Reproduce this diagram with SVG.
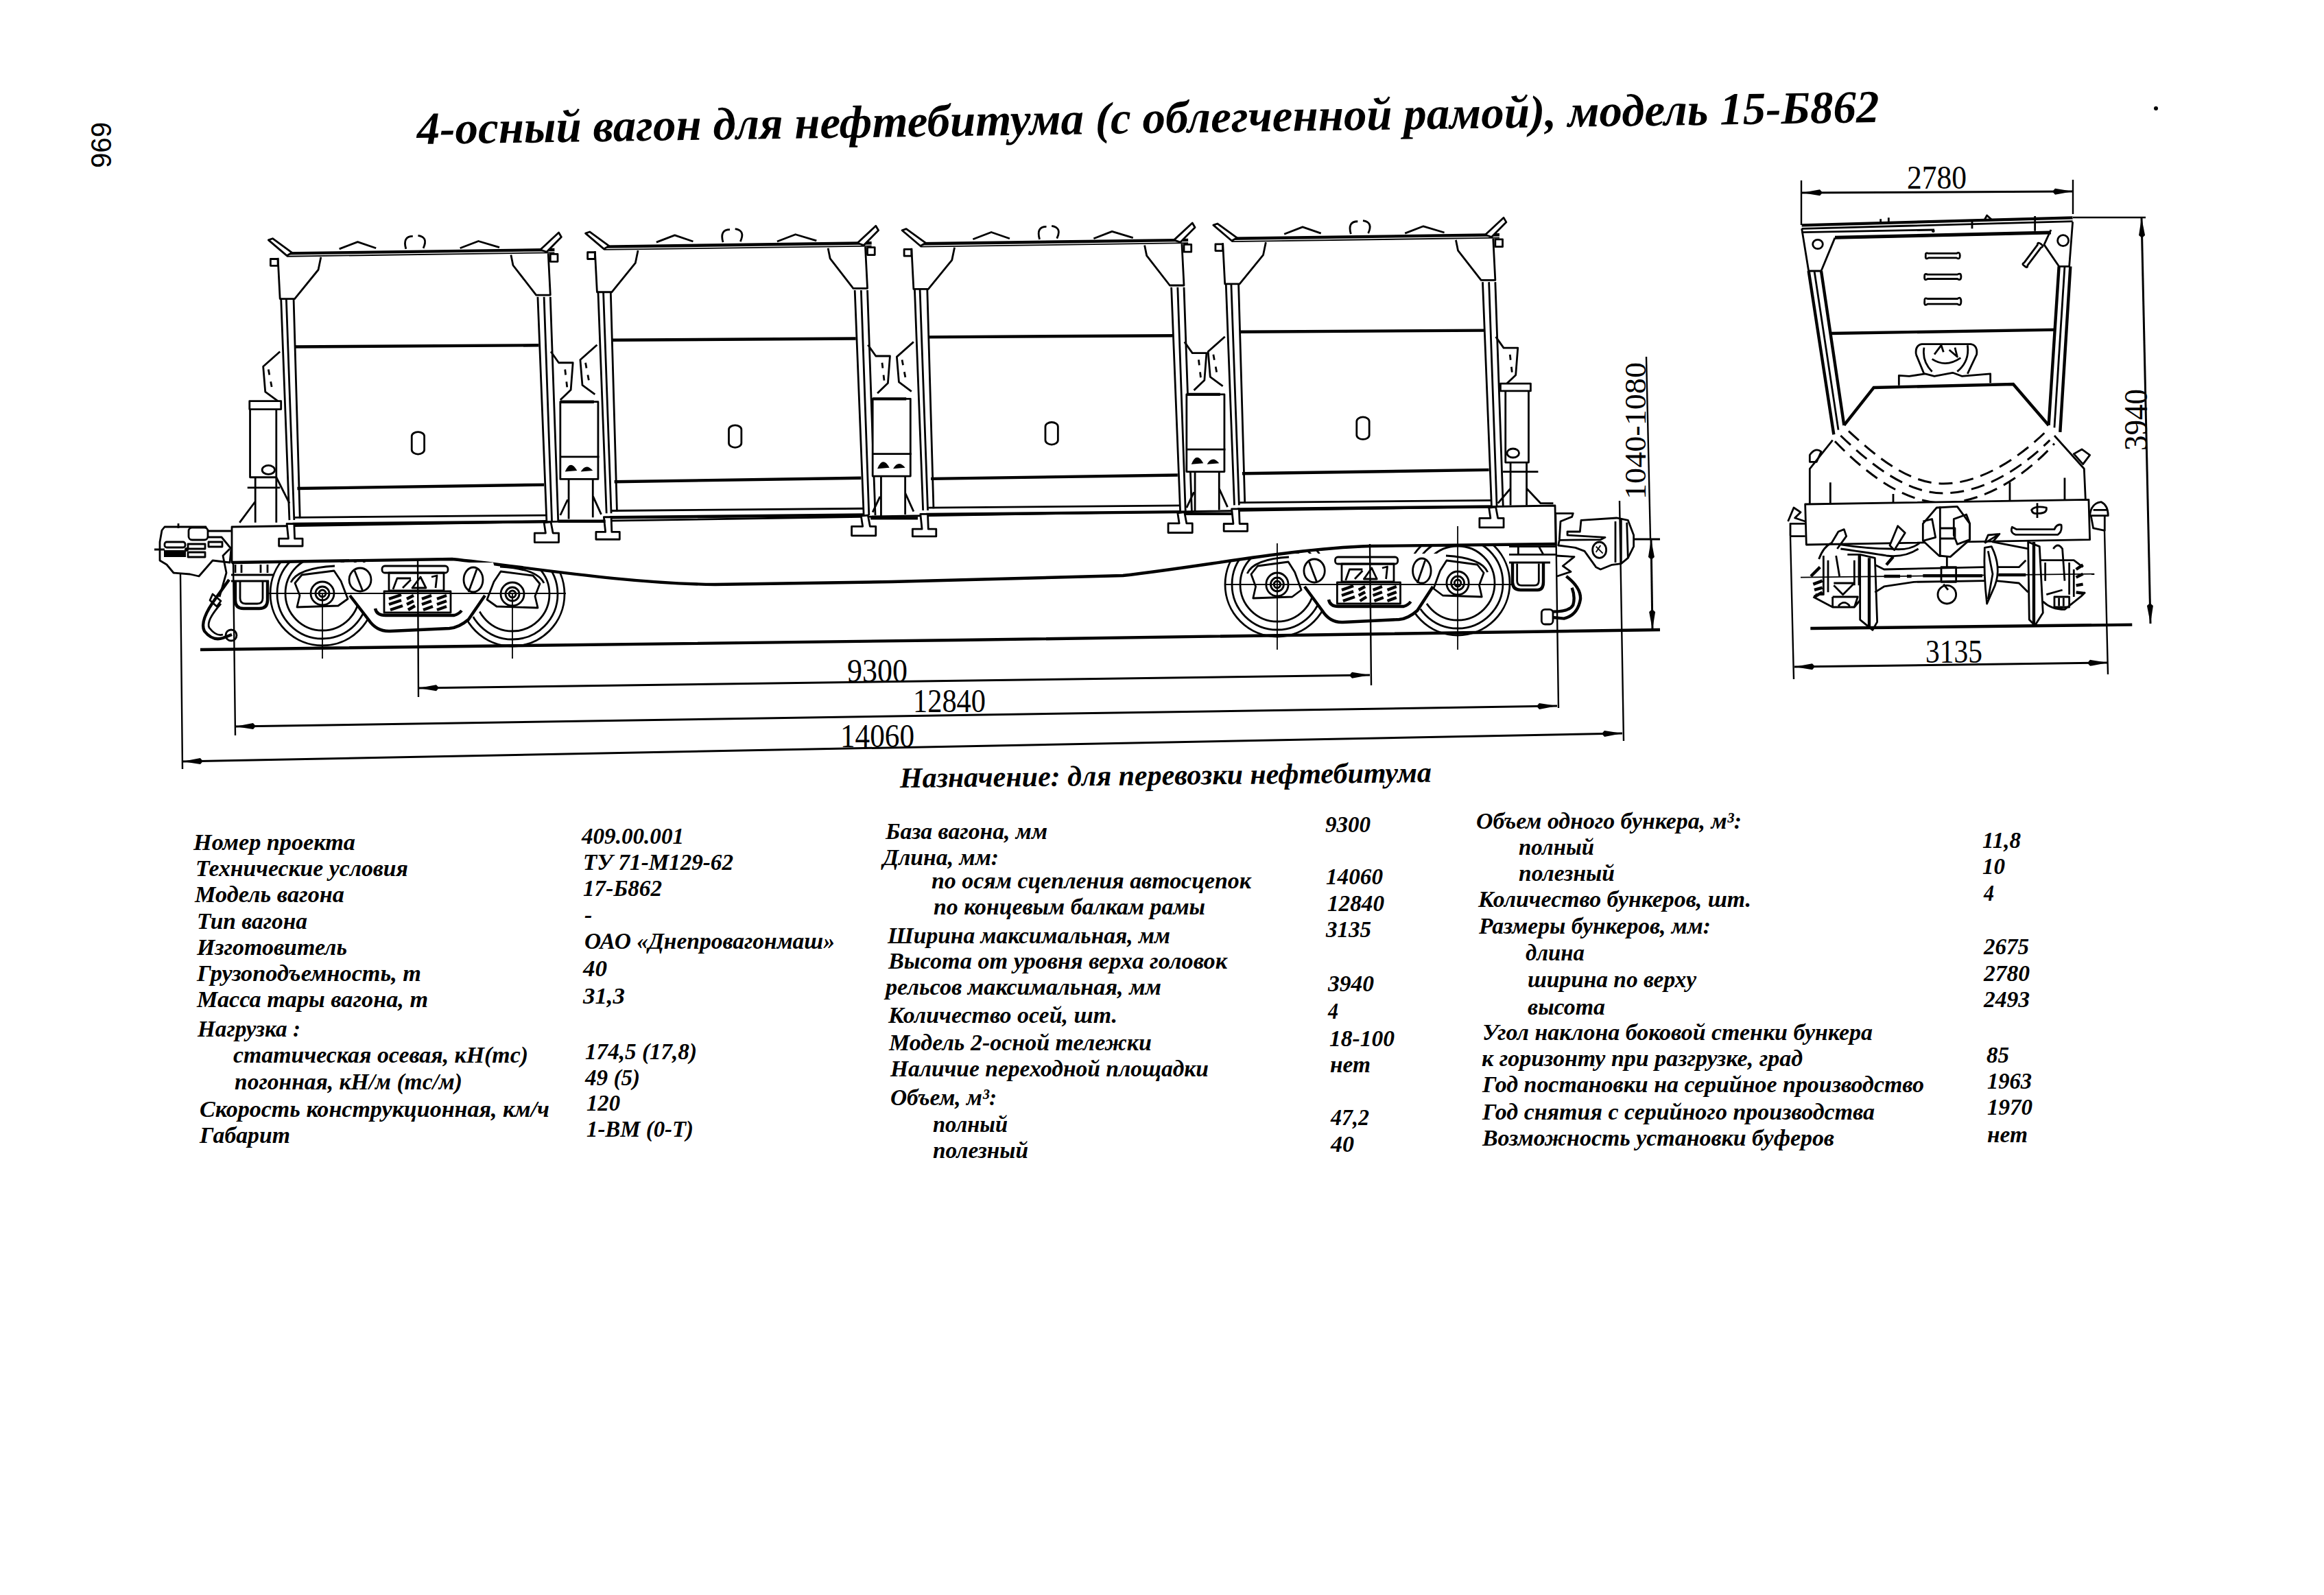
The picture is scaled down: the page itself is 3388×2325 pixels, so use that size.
<svg xmlns="http://www.w3.org/2000/svg" width="3388" height="2325" viewBox="0 0 3388 2325">
<style>
.l{fill:none;stroke:#000;stroke-width:2.8;vector-effect:non-scaling-stroke;stroke-linejoin:round}
.n{fill:none;stroke:#000;stroke-width:1.8;vector-effect:non-scaling-stroke}
.t{fill:none;stroke:#000;stroke-width:4.4;vector-effect:non-scaling-stroke}
.w{fill:#fff;stroke:#000;stroke-width:2.8;vector-effect:non-scaling-stroke;stroke-linejoin:round}
.h{fill:#fff;stroke:none}
.f{fill:#000;stroke:none}
.d{fill:none;stroke:#000;stroke-width:3;stroke-dasharray:20 11;vector-effect:non-scaling-stroke}
.dim{fill:none;stroke:#000;stroke-width:3;marker-start:url(#arr);marker-end:url(#arr)}
.ext{fill:none;stroke:#000;stroke-width:2.4}
.v{font-family:"Liberation Serif",serif;font-size:49px;fill:#000}
.s{font-family:"Liberation Serif",serif;font-size:34px;font-style:italic;font-weight:bold;fill:#000}
</style>
<defs>
<marker id="arr" markerUnits="userSpaceOnUse" markerWidth="36" markerHeight="12" refX="32" refY="6" orient="auto-start-reverse">
<path d="M32 6L6 1.5L2 6L6 10.5Z" fill="#000"/>
</marker>
<g id="hopper">
<path class="t" d="M285 128L795 118"/><path class="n" d="M285 136L795 126"/>
<path class="w" d="M250 92L258 88L295 126L285 134Z"/><path class="w" d="M803 72L808 84L780 124L768 118Z"/>
<rect class="l" x="254" y="143" width="14" height="18"/><rect class="l" x="787" y="130" width="14" height="20"/>
<path class="l" d="M385 116L420 97L455 114M615 114L650 95L690 112"/>
<path class="l" d="M512 116Q505 82 525 82M545 114Q555 84 535 80"/>
<path class="l" d="M268 140L272 250H300L345 172L350 138"/>
<path class="l" d="M712 132L716 160L760 240H787L783 128"/>
<path class="l" d="M274 250L290 845M284 250L299 845M298 250L310 840"/>
<path class="l" d="M763 245L780 850M775 245L790 850M787 245L802 850"/>
<path class="t" d="M300 379L765 375"/><path class="t" d="M305 760L775 750"/>
<path class="l" d="M300 838L780 832"/><path class="t" d="M296 856L780 849"/>
<rect class="l" x="523" y="608" width="24" height="60" rx="12"/>
<path class="l" d="M272 392L240 432L244 500L268 525"/>
<path class="l" d="M250 440L258 500" stroke-dasharray="8 10"/>
<path class="l" d="M788 392L803 422L830 422L826 495L806 522"/>
<path class="l" d="M815 440L820 500" stroke-dasharray="8 10"/>
<path class="w" d="M285 855L288 895H270V915H315V895H300L299 855Z"/>
<path class="w" d="M775 852L778 880H757V905H803V880H792L788 850Z"/>
</g>
<g id="box">
<rect class="w" x="806" y="527" width="72" height="208"/>
<path class="l" d="M806 675H880"/><path class="t" d="M806 527H870"/>
<path class="f" d="M815 715Q825 680 838 712ZM845 715Q855 690 868 712Z"/>
<path class="l" d="M822 735V842M868 735V838M806 832L820 790M868 780L884 830"/>
<path class="t" d="M802 848H892"/>
</g>
<g id="axlebox">
<path class="w" d="M-40-15L-30-27L17-33L27-18L37 8L23 18L-37 20L-33 3Z"/>
<path class="l" d="M-46-16Q-36-37 18-40"/>
<circle class="l" r="17"/><circle class="l" r="10"/><circle class="l" r="5"/>
</g>
<g id="wheel">
<circle class="l" r="76"/><circle class="l" r="66"/><circle class="l" r="54"/>
</g>
<g id="bogieframe">
<path class="h" d="M-112-45H112L125 0L78 38L60 53L-54 57L-70 38L-97 3L-115-15Z"/>
<path class="t" d="M-97 3L-70 38Q-58 56-38 55L48 51Q62 50 76 38L100 3"/>
<rect class="w" x="-50" y="-40" width="96" height="10" rx="4"/>
<rect class="l" x="-40" y="-30" width="80" height="26"/>
<path class="l" d="M-34-6L-28-22H-8M-20-8L-8-20M-6-8L6-24L14-8ZM22-24L30-26L28-8"/>
<rect class="w" x="-47" y="-3" width="97" height="31"/>
<path class="t" d="M-40 8L-22 2M-40 16L-22 10M-38 24L-20 18M-14 8L-4 3M-14 16L-4 11M-12 24L-2 18M8 8L22 3M8 16L22 11M10 24L24 19M30 8L44 3M30 16L44 11M30 24L44 19"/>
<path class="t" d="M-60 22Q-58 32-45 32H55Q62 30 66 25"/>
<ellipse class="w" cx="-82" cy="-20" rx="16" ry="17"/><path class="l" d="M-90-33L-78-3"/>
<ellipse class="w" cx="83" cy="-20" rx="14" ry="18"/><path class="l" d="M88-35L76-2"/>
</g>
<path id="pill" class="l" d="M-60 0Q-62-10-50-6H48Q60-12 60 0Q60 12 48 6H-50Q-62 12-60 0Z"/>
</defs>
<rect width="3388" height="2325" fill="#fff"/>

<g id="page-number"><text transform="translate(162 245) rotate(-90)" font-family="Liberation Sans,sans-serif" font-size="42" fill="#000" textLength="67" lengthAdjust="spacingAndGlyphs">969</text></g>
<g id="title"><text transform="translate(608 210) rotate(-.86)" font-family="Liberation Serif,serif" font-size="67" font-style="italic" font-weight="bold" fill="#000" textLength="2132" lengthAdjust="spacingAndGlyphs">4-осный вагон для нефтебитума (с облегченной рамой), модель 15-Б862</text></g>

<g id="wheels">
<use href="#wheel" x="470" y="865"/><use href="#wheel" x="747" y="866"/>
<use href="#wheel" x="1862" y="852"/><use href="#wheel" x="2125" y="850"/>
</g>
<g id="underframe">
<path class="w" d="M338 768L2267 737L2268 793L1997 796C1880 800 1760 825 1637 839L1300 848L1042 852C900 850 760 825 659 815L338 820Z"/>
<path class="t" d="M338 820L659 815C760 825 900 850 1042 852L1300 848L1637 839C1760 825 1880 800 1997 796L2268 793"/>
<path class="t" d="M292 947L1400 933L2420 918"/>
</g>
<g id="bogie-left" transform="translate(607 865)">
<use href="#bogieframe"/>
<use href="#axlebox" x="-137" y="0"/>
<g transform="translate(140 1) scale(-1 1)"><use href="#axlebox"/></g>
<path class="n" d="M-215 0H218M-137 0V95M140 0V95"/>
</g>
<g id="bogie-right" transform="translate(1994 852) scale(.95 1)">
<use href="#bogieframe"/>
<use href="#axlebox" x="-139" y="0"/>
<g transform="translate(138 -2) scale(-1 1)"><use href="#axlebox"/></g>
<path class="n" d="M-220 0H225M-139-60V95M138-85V95"/>
</g>
<g id="hoppers" transform="matrix(.7653 0 0 .5421 200 300)">
<g id="hopper-1"><use href="#hopper"/></g>
<g id="hopper-2"><use href="#hopper" x="604" y="-18"/></g>
<g id="hopper-3"><use href="#hopper" x="1207" y="-26"/></g>
<g id="hopper-4"><use href="#hopper" x="1800" y="-40"/></g>
<g id="riser-1"><use href="#box"/></g>
<g id="riser-2"><use href="#box" x="595" y="-8"/></g>
<g id="riser-3"><use href="#box" x="1193" y="-20"/></g>
<g id="end-left">
<rect class="w" x="215" y="545" width="50" height="185"/><rect class="w" x="214" y="525" width="60" height="22"/>
<circle class="l" cx="250" cy="710" r="12"/>
<path class="l" d="M225 730V852M265 730V852M210 758H272M195 852L225 795M265 730L290 800"/>
</g>
</g>
<g id="end-right" transform="matrix(.7334 0 0 .5421 1300 300)">
<rect class="w" x="1220" y="495" width="46" height="195"/><rect class="w" x="1210" y="478" width="60" height="20"/>
<circle class="l" cx="1235" cy="665" r="12"/>
<path class="l" d="M1230 690V805M1262 690V805M1215 715H1285M1262 760L1290 800H1315M1205 800L1230 760"/>
</g>
<g id="coupler-left">
<path class="w" d="M236 773L240 768H300L303 783H323L337 800L335 820L310 817L290 840L277 837L253 835L243 823L233 817L233 790Z"/>
<rect class="w" x="275" y="769" width="28" height="18" rx="5"/>
<rect class="l" x="240" y="790" width="30" height="8" rx="3"/><rect class="f" x="239" y="802" width="32" height="10"/>
<rect class="l" x="274" y="793" width="25" height="7"/><rect class="l" x="274" y="805" width="25" height="7"/><rect class="l" x="304" y="790" width="20" height="7"/>
<circle class="f" cx="272" cy="801" r="3"/>
<path class="l" d="M225 801H240M303 774H337M260 763V770"/>
<path class="t" d="M334 845L316 870Q290 905 298 920Q310 935 325 930L338 925"/>
<path class="l" d="M322 880Q300 905 305 915Q315 928 325 925"/>
<path class="l" d="M320 870L330 835L325 810L335 800M310 866L322 876L316 884L306 875Z"/>
<circle class="l" cx="337" cy="926" r="8"/>
<path class="t" d="M343 847V875Q343 887 355 887H378Q390 887 390 875V847"/>
<path class="l" d="M350 847V872Q350 880 358 880H375Q383 880 383 872V847"/>
<path class="l" d="M337 838H400M337 847H392M343 823V835M352 823V835M380 823V835M390 823V835"/>
</g>
<g id="coupler-right" transform="translate(2200 700) scale(.3333)">
<path class="l" d="M200 145H280L275 160L225 180L220 260"/>
<path class="w" d="M255 225H310L315 175L470 165L520 175L545 240V290L520 340L490 365L450 370L400 390L380 380L330 310L290 295L215 285L220 262L400 260L420 250L255 240Z"/>
<ellipse class="l" cx="395" cy="305" rx="30" ry="35"/><path class="n" d="M380 290L410 320M400 285L380 315"/>
<path class="l" d="M465 180V360M490 170V365M515 185L520 340M545 258H660"/>
<path class="l" d="M0 290H205M0 325H205M40 290V325M130 290L150 325M205 330L285 335L235 375L270 400L210 420"/>
<path class="t" d="M15 360V445Q15 480 50 480H125Q150 480 150 445V360"/>
<path class="l" d="M35 365V440Q35 460 55 460H110Q130 460 130 440V365M0 360H180"/>
<path class="t" d="M250 420Q315 470 312 520Q300 590 240 605L190 600M275 470Q290 510 280 545Q265 575 190 575"/>
<rect class="w" x="142" y="565" width="50" height="65" rx="15"/>
</g>

<g id="side-view">
<g id="side-upper" transform="translate(2620 240) scale(.3333)">
<path class="t" d="M20 265L1205 232"/><path class="l" d="M20 280L1205 248M20 296L600 285M165 322L1110 300"/><path class="t" d="M165 318L1105 296"/>
<path class="l" d="M365 250V238M400 250V232M820 240L830 222L850 240M1040 225V290M765 240V280"/>
<circle class="f" cx="595" cy="290" r="7"/>
<path class="l" d="M20 280L50 465H105L165 320"/><ellipse class="l" cx="90" cy="348" rx="22" ry="20"/>
<path class="l" d="M1205 250L1190 445H1145L1080 350L1110 285"/><ellipse class="l" cx="1163" cy="332" rx="24" ry="24"/>
<path class="t" d="M50 465L160 1180M105 465L205 1140"/><path class="l" d="M75 465L180 1160"/>
<path class="t" d="M1145 445L1100 1140M1195 445L1150 1170"/><path class="l" d="M1170 445L1125 1150"/>
<path class="t" d="M145 738L1130 722"/>
<use href="#pill" transform="translate(637 398) scale(1.25 1.6)"/><use href="#pill" transform="translate(637 490) scale(1.33 1.6)"/><use href="#pill" transform="translate(637 598) scale(1.33 1.9)"/>
<use href="#pill" transform="translate(1030 395) rotate(-53) scale(1 1.6)"/>
<path class="l" d="M520 830Q515 790 545 785H760Q790 790 785 830L745 915M520 830L555 915M555 800Q545 860 590 905M745 790Q755 860 700 905M590 850Q650 890 715 845M600 830L630 790L640 820M665 810L700 840L690 800"/>
<path class="l" d="M445 965V922L490 925L560 915L600 925L680 910L720 925L845 915V955"/>
<path class="t" d="M205 1140L335 975L945 960L1100 1140"/>
<path class="d" d="M225 1165C370 1300 500 1395 640 1395C790 1395 950 1300 1085 1170"/>
<path class="d" d="M190 1185C340 1330 490 1437 640 1437C800 1437 970 1340 1105 1205"/>
<path class="d" d="M165 1210C320 1370 480 1479 640 1479C810 1479 990 1370 1125 1220"/>
<path class="l" d="M155 1205L55 1330V1485M1125 1185L1255 1330L1262 1485M145 1390V1490M1170 1370V1480M930 1390V1490M420 1440V1490"/>
<path class="l" d="M55 1270Q80 1235 105 1255L85 1300L55 1300ZM1210 1265L1245 1245L1280 1270L1250 1310Z"/>
</g>
<g id="side-lower" transform="translate(2590 720) scale(.3333)">
<path class="w" d="M125 45L1365 25L1370 200L130 222Z"/>
<path class="l" d="M60 185V130H125M60 185H125M50 120L75 60L105 80L80 105L125 120"/>
<path class="l" d="M1370 95Q1375 40 1420 35Q1450 50 1450 95H1365M1375 95L1385 150L1435 160V95M1385 70H1445"/>
<path class="l" d="M1140 40V105M1115 70Q1130 50 1180 60Q1185 85 1145 85Q1120 90 1115 70Z"/>
<path class="l" d="M1030 145Q1020 170 1045 178H1230Q1250 165 1245 135Q1225 130 1215 155H1050Z"/>
<path class="n" d="M105 365L1390 350"/>
<path class="l" d="M430 310L470 330L910 320M960 320L1060 320L1090 290M430 430L470 405L600 385L910 380M960 380L1060 390L1100 430"/>
<path class="t" d="M470 360H540M570 360H590M640 358H900M970 354H1090"/>
<path class="w" d="M640 130L700 60L790 55L845 130V200L760 275L710 270L640 205Z"/>
<path class="l" d="M640 120L680 110L695 190L640 205M715 55V275M715 150H780V195H715M775 110L830 90L845 130V200L790 220L775 180Z"/>
<path class="l" d="M745 275V320M720 320H785V385H720Z"/>
<circle class="l" cx="745" cy="440" r="40"/><path class="l" d="M730 395L750 420"/>
<path class="l" d="M365 265V550L420 595L440 560L430 280Z"/><path class="t" d="M405 280V585"/>
<path class="l" d="M1100 210L1105 550L1130 575L1165 520L1150 230Z"/><path class="t" d="M1125 210V570"/>
<path class="w" d="M940 230Q985 320 955 400L920 480Q905 350 910 235Z"/><path class="l" d="M925 250L945 350L925 460"/>
<path class="l" d="M910 215L975 175L945 210L1100 240M910 215L925 180L975 175"/>
<path class="l" d="M270 220Q400 240 500 240Q580 250 625 215M280 240Q420 260 480 270Q560 280 620 240"/>
<path class="t" d="M480 310L510 275"/>
<path class="w" d="M495 225L530 140L562 170L515 245Z"/>
<path class="l" d="M185 285Q205 230 240 215L270 165L295 155L305 185L265 240"/>
<path class="l" d="M160 450L245 495H340L365 465M205 270V440H170M225 290V430M260 270L275 360M310 265H360V400M340 290V400M245 450V495M245 450H355L340 495M270 490Q295 460 320 490M250 400L290 440L340 390M250 390H340"/>
<path class="t" d="M150 360L190 320M160 395L200 380M165 420L200 410M165 450L200 430"/>
<path class="l" d="M1165 470Q1200 505 1260 505L1335 445L1350 430M1150 290H1300L1340 320M1175 300V380M1210 240Q1230 210 1250 240L1260 380M1280 300V440M1300 330V450M1215 450H1280V495H1215ZM1235 490V455M1255 490V455M1180 440L1250 420"/>
<path class="t" d="M1310 330L1340 310M1310 365L1340 350M1310 400L1340 395M1310 430L1345 435"/>
<path class="t" d="M148 588L1555 572"/>
</g>
</g>

<g id="connectors">
<path class="ext" d="M263 837L266 1121M340 820L343 1072M609 815L610 1016M1997 793L1999 999M2268 750L2272 1032M2361 730L2367 1080"/>
<path class="dim" d="M266 1110L2365 1069"/>
<path class="dim" d="M343 1059L2270 1029"/>
<path class="dim" d="M610 1003L1997 984"/>
<path class="ext" d="M2400 520L2406 786"/>
<path class="dim" d="M2407 786L2409 918"/>
<path class="ext" d="M2626 263V328M3022 262V312M3022 317H3128"/>
<path class="dim" d="M2627 281L3022 279"/>
<path class="dim" d="M3122 317L3135 909"/>
<path class="ext" d="M2610 782L2615 990M3068 773L3073 983"/>
<path class="dim" d="M2616 972L3073 966"/>
</g>

<g id="dimension-labels">
<text class="v" x="1235" y="994" textLength="88" lengthAdjust="spacingAndGlyphs">9300</text>
<text class="v" x="1331" y="1038" textLength="106" lengthAdjust="spacingAndGlyphs">12840</text>
<text class="v" x="1225" y="1089" textLength="108" lengthAdjust="spacingAndGlyphs">14060</text>
<text class="v" transform="translate(2399 728) rotate(-90)" textLength="200" lengthAdjust="spacingAndGlyphs" style="font-size:44px">1040-1080</text>
<text class="v" x="2780" y="275" textLength="87" lengthAdjust="spacingAndGlyphs">2780</text>
<text class="v" transform="translate(3130 657) rotate(-90)" textLength="90" lengthAdjust="spacingAndGlyphs">3940</text>
<text class="v" x="2807" y="966" textLength="83" lengthAdjust="spacingAndGlyphs">3135</text>
</g>
<circle id="speck" cx="3143" cy="158" r="3" fill="#000"/>

<g id="purpose"><text transform="translate(1312 1148) rotate(-.6)" font-family="Liberation Serif,serif" font-size="42" font-style="italic" font-weight="bold" fill="#000" textLength="775" lengthAdjust="spacingAndGlyphs">Назначение: для перевозки нефтебитума</text></g>

<g id="spec-column-1">
<text class="s" x="282" y="1239" textLength="236" lengthAdjust="spacingAndGlyphs">Номер проекта</text>
<text class="s" x="285" y="1277" textLength="310" lengthAdjust="spacingAndGlyphs">Технические условия</text>
<text class="s" x="284" y="1315" textLength="218" lengthAdjust="spacingAndGlyphs">Модель вагона</text>
<text class="s" x="287" y="1354" textLength="161" lengthAdjust="spacingAndGlyphs">Тип вагона</text>
<text class="s" x="287" y="1392" textLength="219" lengthAdjust="spacingAndGlyphs">Изготовитель</text>
<text class="s" x="287" y="1430" textLength="327" lengthAdjust="spacingAndGlyphs">Грузоподъемность, т</text>
<text class="s" x="287" y="1468" textLength="337" lengthAdjust="spacingAndGlyphs">Масса тары вагона, т</text>
<text class="s" x="288" y="1511" textLength="150" lengthAdjust="spacingAndGlyphs">Нагрузка :</text>
<text class="s" x="340" y="1549" textLength="430" lengthAdjust="spacingAndGlyphs">статическая осевая, кН(тс)</text>
<text class="s" x="342" y="1588" textLength="332" lengthAdjust="spacingAndGlyphs">погонная, кН/м (тс/м)</text>
<text class="s" x="291" y="1628" textLength="510" lengthAdjust="spacingAndGlyphs">Скорость конструкционная, км/ч</text>
<text class="s" x="291" y="1666" textLength="132" lengthAdjust="spacingAndGlyphs">Габарит</text>
<text class="s" x="848" y="1230" textLength="149" lengthAdjust="spacingAndGlyphs">409.00.001</text>
<text class="s" x="850" y="1268" textLength="219" lengthAdjust="spacingAndGlyphs">ТУ 71-М129-62</text>
<text class="s" x="850" y="1306" textLength="115" lengthAdjust="spacingAndGlyphs">17-Б862</text>
<text class="s" x="852" y="1345">-</text>
<text class="s" x="852" y="1383" textLength="365" lengthAdjust="spacingAndGlyphs">ОАО «Днепровагонмаш»</text>
<text class="s" x="850" y="1423" textLength="35" lengthAdjust="spacingAndGlyphs">40</text>
<text class="s" x="850" y="1463" textLength="61" lengthAdjust="spacingAndGlyphs">31,3</text>
<text class="s" x="853" y="1544" textLength="163" lengthAdjust="spacingAndGlyphs">174,5 (17,8)</text>
<text class="s" x="853" y="1582" textLength="80" lengthAdjust="spacingAndGlyphs">49 (5)</text>
<text class="s" x="855" y="1619" textLength="49" lengthAdjust="spacingAndGlyphs">120</text>
<text class="s" x="855" y="1657" textLength="156" lengthAdjust="spacingAndGlyphs">1-ВМ (0-Т)</text>
</g>
<g id="spec-column-2">
<text class="s" x="1291" y="1223" textLength="236" lengthAdjust="spacingAndGlyphs">База вагона, мм</text>
<text class="s" x="1287" y="1261" textLength="169" lengthAdjust="spacingAndGlyphs">Длина, мм:</text>
<text class="s" x="1358" y="1295" textLength="466" lengthAdjust="spacingAndGlyphs">по осям сцепления автосцепок</text>
<text class="s" x="1361" y="1333" textLength="396" lengthAdjust="spacingAndGlyphs">по концевым балкам рамы</text>
<text class="s" x="1294" y="1375" textLength="412" lengthAdjust="spacingAndGlyphs">Ширина максимальная, мм</text>
<text class="s" x="1295" y="1412" textLength="494" lengthAdjust="spacingAndGlyphs">Высота от уровня верха головок</text>
<text class="s" x="1291" y="1450" textLength="402" lengthAdjust="spacingAndGlyphs">рельсов максимальная, мм</text>
<text class="s" x="1295" y="1491" textLength="334" lengthAdjust="spacingAndGlyphs">Количество осей, шт.</text>
<text class="s" x="1296" y="1531" textLength="383" lengthAdjust="spacingAndGlyphs">Модель 2-осной тележки</text>
<text class="s" x="1298" y="1569" textLength="464" lengthAdjust="spacingAndGlyphs">Наличие переходной площадки</text>
<text class="s" x="1298" y="1611" textLength="155" lengthAdjust="spacingAndGlyphs">Объем, м³:</text>
<text class="s" x="1360" y="1650" textLength="109" lengthAdjust="spacingAndGlyphs">полный</text>
<text class="s" x="1360" y="1688" textLength="139" lengthAdjust="spacingAndGlyphs">полезный</text>
<text class="s" x="1932" y="1213" textLength="66" lengthAdjust="spacingAndGlyphs">9300</text>
<text class="s" x="1933" y="1289" textLength="83" lengthAdjust="spacingAndGlyphs">14060</text>
<text class="s" x="1935" y="1328" textLength="83" lengthAdjust="spacingAndGlyphs">12840</text>
<text class="s" x="1933" y="1366" textLength="66" lengthAdjust="spacingAndGlyphs">3135</text>
<text class="s" x="1936" y="1445" textLength="67" lengthAdjust="spacingAndGlyphs">3940</text>
<text class="s" x="1936" y="1485" textLength="15" lengthAdjust="spacingAndGlyphs">4</text>
<text class="s" x="1938" y="1525" textLength="95" lengthAdjust="spacingAndGlyphs">18-100</text>
<text class="s" x="1939" y="1563" textLength="59" lengthAdjust="spacingAndGlyphs">нет</text>
<text class="s" x="1940" y="1640" textLength="56" lengthAdjust="spacingAndGlyphs">47,2</text>
<text class="s" x="1940" y="1679" textLength="34" lengthAdjust="spacingAndGlyphs">40</text>
</g>
<g id="spec-column-3">
<text class="s" x="2152" y="1208" textLength="387" lengthAdjust="spacingAndGlyphs">Объем одного бункера, м³:</text>
<text class="s" x="2214" y="1246" textLength="110" lengthAdjust="spacingAndGlyphs">полный</text>
<text class="s" x="2214" y="1284" textLength="140" lengthAdjust="spacingAndGlyphs">полезный</text>
<text class="s" x="2155" y="1322" textLength="398" lengthAdjust="spacingAndGlyphs">Количество бункеров, шт.</text>
<text class="s" x="2156" y="1361" textLength="338" lengthAdjust="spacingAndGlyphs">Размеры бункеров, мм:</text>
<text class="s" x="2224" y="1400" textLength="86" lengthAdjust="spacingAndGlyphs">длина</text>
<text class="s" x="2227" y="1439" textLength="246" lengthAdjust="spacingAndGlyphs">ширина по верху</text>
<text class="s" x="2227" y="1479" textLength="113" lengthAdjust="spacingAndGlyphs">высота</text>
<text class="s" x="2161" y="1516" textLength="569" lengthAdjust="spacingAndGlyphs">Угол наклона боковой стенки бункера</text>
<text class="s" x="2160" y="1554" textLength="468" lengthAdjust="spacingAndGlyphs">к горизонту при разгрузке, град</text>
<text class="s" x="2161" y="1592" textLength="644" lengthAdjust="spacingAndGlyphs">Год постановки на серийное производство</text>
<text class="s" x="2161" y="1632" textLength="572" lengthAdjust="spacingAndGlyphs">Год снятия с серийного производства</text>
<text class="s" x="2161" y="1670" textLength="513" lengthAdjust="spacingAndGlyphs">Возможность установки буферов</text>
<text class="s" x="2890" y="1236" textLength="56" lengthAdjust="spacingAndGlyphs">11,8</text>
<text class="s" x="2890" y="1274" textLength="33" lengthAdjust="spacingAndGlyphs">10</text>
<text class="s" x="2892" y="1313" textLength="15" lengthAdjust="spacingAndGlyphs">4</text>
<text class="s" x="2892" y="1391" textLength="66" lengthAdjust="spacingAndGlyphs">2675</text>
<text class="s" x="2892" y="1430" textLength="67" lengthAdjust="spacingAndGlyphs">2780</text>
<text class="s" x="2892" y="1468" textLength="67" lengthAdjust="spacingAndGlyphs">2493</text>
<text class="s" x="2896" y="1549" textLength="33" lengthAdjust="spacingAndGlyphs">85</text>
<text class="s" x="2897" y="1587" textLength="65" lengthAdjust="spacingAndGlyphs">1963</text>
<text class="s" x="2897" y="1625" textLength="66" lengthAdjust="spacingAndGlyphs">1970</text>
<text class="s" x="2897" y="1665" textLength="59" lengthAdjust="spacingAndGlyphs">нет</text>
</g>
</svg>
